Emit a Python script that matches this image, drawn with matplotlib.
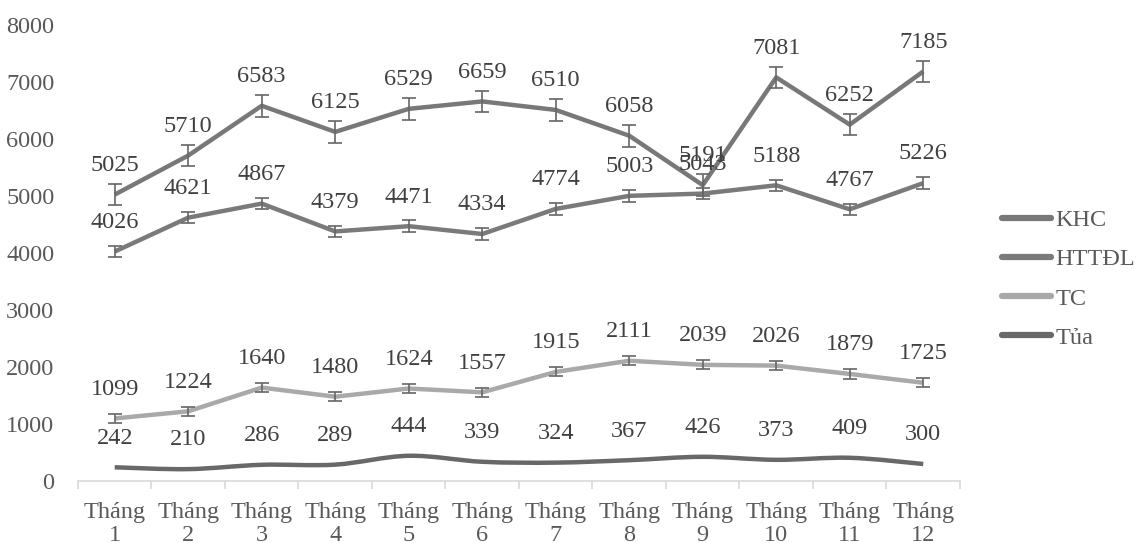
import matplotlib
matplotlib.use("Agg")
import matplotlib.pyplot as plt
from matplotlib.path import Path
from matplotlib.patches import PathPatch
from matplotlib.lines import Line2D
import numpy as np

categories = ["Tháng\n1", "Tháng\n2", "Tháng\n3", "Tháng\n4", "Tháng\n5", "Tháng\n6",
              "Tháng\n7", "Tháng\n8", "Tháng\n9", "Tháng\n10", "Tháng\n11", "Tháng\n12"]
khc = [5025, 5710, 6583, 6125, 6529, 6659, 6510, 6058, 5191, 7081, 6252, 7185]
httdl = [4026, 4621, 4867, 4379, 4471, 4334, 4774, 5003, 5043, 5188, 4767, 5226]
tc = [1099, 1224, 1640, 1480, 1624, 1557, 1915, 2111, 2039, 2026, 1879, 1725]
tua = [242, 210, 286, 289, 444, 339, 324, 367, 426, 373, 409, 300]
err_khc = 190
err_httdl = 100
err_tc = 80
yticks = [0, 1000, 2000, 3000, 4000, 5000, 6000, 7000, 8000]

plt.rcParams['font.family'] = ['Liberation Serif', 'DejaVu Serif']
FS = 17.5

fig = plt.figure(figsize=(11.4, 5.43), dpi=100)
ax = fig.add_axes([0.0684, 0.114, 0.7737, 0.840])

x = np.arange(len(categories))


def smooth_path(xs, ys):
    pts = np.column_stack([xs, ys]).astype(float)
    n = len(pts)
    verts = [pts[0]]
    codes = [Path.MOVETO]
    for i in range(n - 1):
        p0 = pts[i - 1] if i > 0 else pts[i]
        p1 = pts[i]
        p2 = pts[i + 1]
        p3 = pts[i + 2] if i + 2 < n else pts[i + 1]
        c1 = p1 + (p2 - p0) / 6.0
        c2 = p2 - (p3 - p1) / 6.0
        verts += [c1, c2, p2]
        codes += [Path.CURVE4] * 3
    return Path(verts, codes)


series = [
    ("KHC", khc, err_khc, "#787878", False),
    ("HTTĐL", httdl, err_httdl, "#7a7a7a", False),
    ("TC", tc, err_tc, "#a9a9a9", False),
    ("Tủa", tua, None, "#686868", True),
]
handles = []
for name, vals, err, col, smooth in series:
    if smooth:
        patch = PathPatch(smooth_path(x, vals), facecolor='none', edgecolor=col,
                          lw=3.2, zorder=3, capstyle='butt', joinstyle='round')
        ax.add_patch(patch)
    else:
        ax.plot(x, vals, color=col, lw=3.2, solid_capstyle='butt',
                solid_joinstyle='round', zorder=3)
    handles.append(Line2D([], [], color=col, lw=4.5, solid_capstyle='round', label=name))
    if err is not None:
        ax.errorbar(x, vals, yerr=err, fmt='none', ecolor="#666666", elinewidth=1.2,
                    capsize=5, capthick=1.2, zorder=4)
    for xi, v in zip(x, vals):
        ax.annotate(str(v), (xi, v), xytext=(0, 21), textcoords='offset points',
                    ha='center', va='center', fontsize=FS, color="#404040")

ax.set_xlim(-0.5, len(categories) - 0.5)
ax.set_ylim(0, 8000)
ax.set_yticks(yticks)
ax.set_yticklabels([str(t) for t in yticks])
ax.set_xticks(x)
ax.set_xticklabels(categories, linespacing=1.15)
ax.set_xticks(np.arange(-0.5, len(categories), 1.0), minor=True)
ax.tick_params(axis='x', which='major', length=0, pad=15, labelsize=FS, labelcolor="#595959")
ax.tick_params(axis='x', which='minor', length=6, color="#d9d9d9", width=1.2)
ax.tick_params(axis='y', length=0, pad=17, labelsize=FS, labelcolor="#595959")
for s in ['top', 'right', 'left']:
    ax.spines[s].set_visible(False)
ax.spines['bottom'].set_color("#d9d9d9")
ax.spines['bottom'].set_linewidth(1.2)

leg = fig.legend(handles=handles, loc='upper left', bbox_to_anchor=(0.879, 0.615),
                 frameon=False, fontsize=FS, handlelength=2.0, handletextpad=0.2,
                 labelspacing=0.71, borderaxespad=0, borderpad=0)
for t in leg.get_texts():
    t.set_color("#595959")

fig.savefig("out.png", dpi=100)
